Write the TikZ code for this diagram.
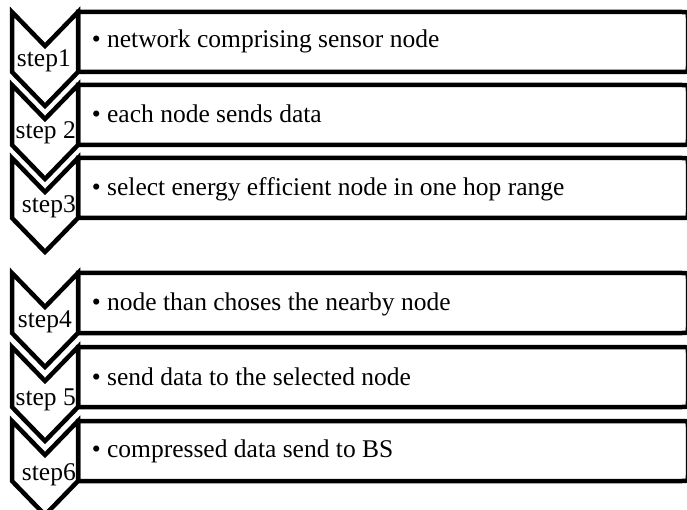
\documentclass[tikz,border=0pt]{standalone}
\usepackage{fontspec}
\setmainfont{Liberation Serif}
\tikzset{
  chev/.style={draw=black, fill=white, line width=4.5pt, line join=miter},
  itembox/.style={draw=black, fill=white, line width=4.5pt, line join=miter},
  steplabel/.style={anchor=base east, inner sep=0pt, font=\fontsize{25.5}{30}\selectfont},
  itemtext/.style={anchor=base west, inner sep=0pt, font=\fontsize{25.5}{30}\selectfont},
}
% one row: item box, then the chevron on top of its left edge
\newcommand\steprow[1]{%
  \draw[itembox] (78,#1) -- (682,#1) .. controls (688,#1) .. (688,#1+6)
    -- (688,#1+54) .. controls (688,#1+60) .. (682,#1+60) -- (78,#1+60) -- cycle;
  \draw[chev] (12,#1) -- (45,#1+34) -- (78,#1) -- (78,#1+60)
    -- (45,#1+94) -- (12,#1+60) -- cycle;
}
\newcommand\bul{\makebox[15.3pt][l]{•}}
\begin{document}
\begin{tikzpicture}[x=1pt,y=-1pt]
  \useasboundingbox (0,0) rectangle (687,510);
  \fill[white] (0,0) rectangle (687,510);

  % first group
  \steprow{12}
  \node[steplabel] (s1) at (71,67) {step1};
  \node[itemtext] (t1) at (91.7,48) {\bul network comprising sensor node};
  \steprow{85}
  \node[steplabel] (s2) at (76,139) {step 2};
  \node[itemtext] (t2) at (91.7,123) {\bul each node sends data};
  \steprow{158}
  \node[steplabel] (s3) at (76,213) {step3};
  \node[itemtext] (t3) at (91.7,196) {\bul select energy efficient node in one hop range};

  % second group
  \steprow{273}
  \node[steplabel] (s4) at (72,327) {step4};
  \node[itemtext] (t4) at (91.7,310) {\bul node than choses the nearby node};
  \steprow{347}
  \node[steplabel] (s5) at (76,405) {step 5};
  \node[itemtext] (t5) at (91.7,385) {\bul send data to the selected node};
  \steprow{421}
  \node[steplabel] (s6) at (76,480) {step6};
  \node[itemtext] (t6) at (91.7,457) {\bul compressed data send to BS};
\end{tikzpicture}
\end{document}
